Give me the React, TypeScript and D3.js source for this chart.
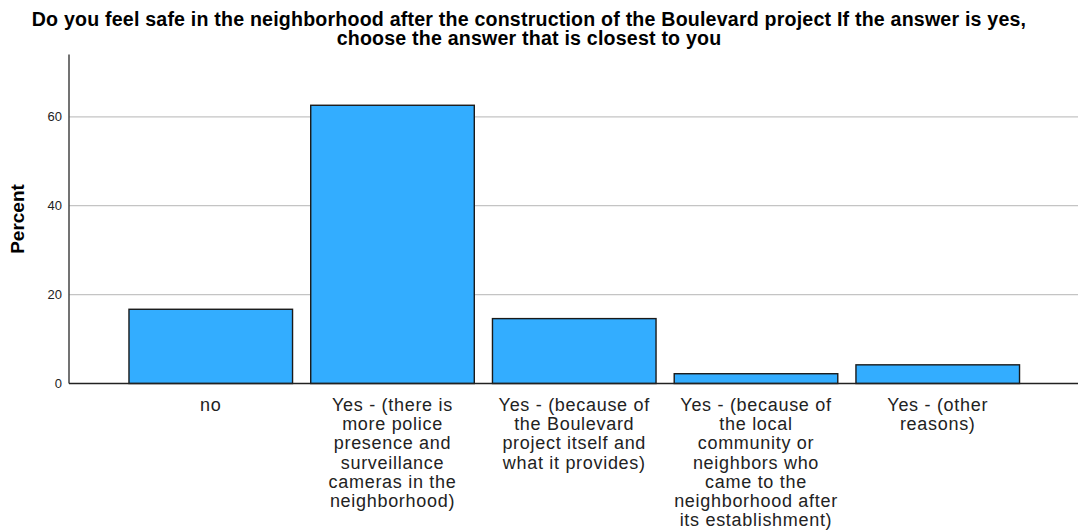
import React from "react";
import * as d3 from "d3";

const TITLE_LINES = [
  "Do you feel safe in the neighborhood after the construction of the Boulevard project If the answer is yes,",
  "choose the answer that is closest to you",
];
const CATEGORY_LABELS: string[][] = [
  ["no"],
  ["Yes - (there is", "more police", "presence and", "surveillance", "cameras in the", "neighborhood)"],
  ["Yes - (because of", "the Boulevard", "project itself and", "what it provides)"],
  ["Yes - (because of", "the local", "community or", "neighbors who", "came to the", "neighborhood after", "its establishment)"],
  ["Yes - (other", "reasons)"],
];
const CATEGORIES = ["no", "police", "boulevard", "community", "other"];
const PERCENTS = [16.7, 62.6, 14.6, 2.2, 4.2];
const Y_TICKS = [0, 20, 40, 60];
const Y_LABEL = "Percent";

const W = 1078;
const H = 531;

export default function App() {
  const x = d3.scaleBand<string>().domain(CATEGORIES).range([110.8, 1037.7]).paddingInner(0.1).paddingOuter(0.1);
  const y = d3.scaleLinear().domain([0, 74]).range([383.5, 54.6]);
  const axisX = 69;
  const font = "'Liberation Sans', Arial, sans-serif";

  return (
    <svg width={W} height={H} style={{ position: "absolute", left: 0, top: 0, background: "#fff" }} fontFamily={font}>
      <rect x={0} y={0} width={W} height={H} fill="#fff" />
      {TITLE_LINES.map((t, i) => (
        <text key={i} x={529} y={25.5 + i * 19.5} textAnchor="middle" fontSize={19.6} letterSpacing={0.2} fontWeight="bold" fill="#000">
          {t}
        </text>
      ))}
      {Y_TICKS.filter((t) => t > 0).map((t) => (
        <line key={t} x1={axisX} x2={W} y1={y(t)} y2={y(t)} stroke="#c4c4c4" strokeWidth={1.2} />
      ))}
      {Y_TICKS.map((t) => (
        <text key={t} x={62} y={y(t)} dy="0.35em" textAnchor="end" fontSize={13} fill="#222">
          {t}
        </text>
      ))}
      <text transform={`translate(24, ${219}) rotate(-90)`} textAnchor="middle" fontSize={19} fontWeight="bold" fill="#000">
        {Y_LABEL}
      </text>
      {CATEGORIES.map((c, i) => (
        <rect
          key={c}
          x={x(c)!}
          y={y(PERCENTS[i])}
          width={x.bandwidth()}
          height={y(0) - y(PERCENTS[i])}
          fill="#33adff"
          stroke="#1a1a1a"
          strokeWidth={1.4}
        />
      ))}
      <line x1={axisX} x2={axisX} y1={y.range()[1]} y2={y(0)} stroke="#444" strokeWidth={1.5} />
      <line x1={axisX} x2={W} y1={y(0)} y2={y(0)} stroke="#222" strokeWidth={1.5} />
      {CATEGORIES.map((c, i) => (
        <text key={c} textAnchor="middle" fontSize={18} letterSpacing={0.7} fill="#222">
          {CATEGORY_LABELS[i].map((ln, j) => (
            <tspan key={j} x={x(c)! + x.bandwidth() / 2} y={411 + j * 19.2}>
              {ln}
            </tspan>
          ))}
        </text>
      ))}
    </svg>
  );
}
